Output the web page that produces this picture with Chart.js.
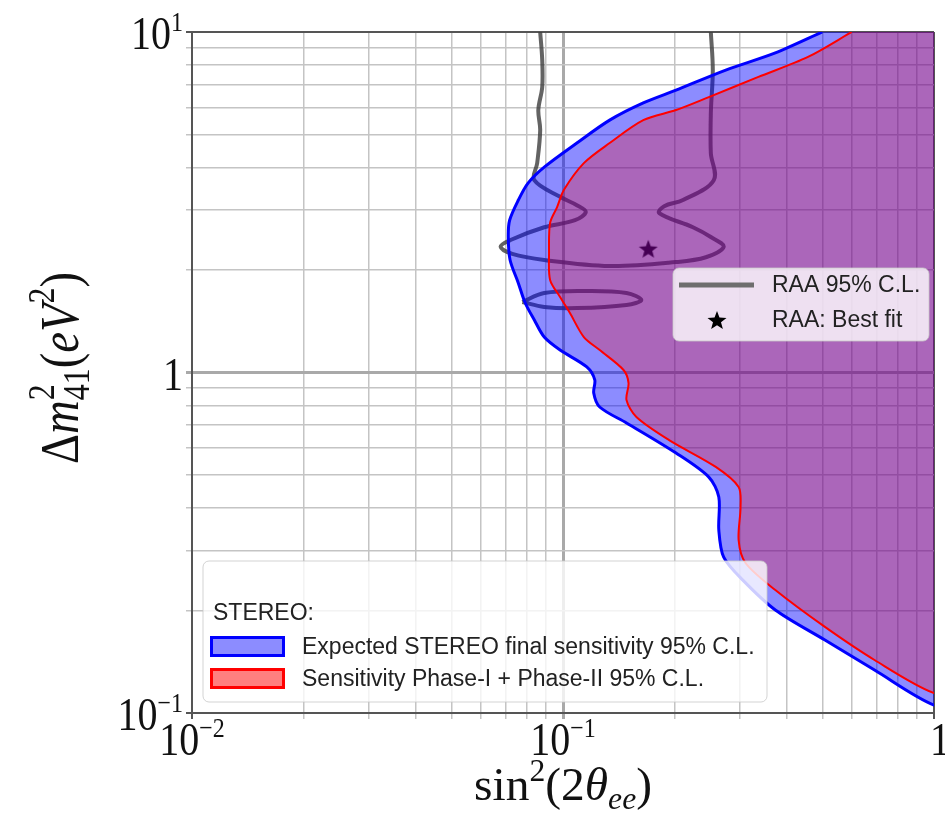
<!DOCTYPE html>
<html>
<head>
<meta charset="utf-8">
<script src="https://cdn.jsdelivr.net/npm/chart.js@4.4.1/dist/chart.umd.min.js"></script>
<style>
  body { margin: 0; background: #fff; }
  canvas { display: block; }
</style>
</head>
<body>
<canvas id="stereoChart" width="945" height="816"></canvas>
<script>
// ---- data (x = sin^2(2theta_ee), y = dm^2_41 in eV^2) ----
const blueX = [0.50, 0.3735, 0.2746, 0.2017, 0.1646, 0.1336, 0.1090, 0.0890, 0.0805, 0.0758, 0.0718, 0.0712,
  0.0720, 0.0758, 0.0791, 0.0837, 0.0890, 0.0982, 0.1159, 0.1218, 0.1210, 0.1256, 0.1483, 0.2017, 0.2472,
  0.2630, 0.2630, 0.2711, 0.3048, 0.3735, 0.5081, 0.6913, 1.0];
const blueY = [10, 8.68, 7.73, 6.75, 6.19, 5.51, 4.72, 4.01, 3.60, 3.21, 2.80, 2.50,
  2.14, 1.83, 1.60, 1.426, 1.271, 1.164, 1.038, 0.951, 0.871, 0.792, 0.711, 0.580, 0.493,
  0.431, 0.345, 0.287, 0.246, 0.2007, 0.1638, 0.1337, 0.1055];

const redX = [0.600, 0.4575, 0.3363, 0.2472, 0.2017, 0.1646, 0.1336, 0.1138, 0.1006, 0.0964, 0.0923, 0.0917,
  0.0923, 0.0982, 0.1044, 0.1138, 0.1256, 0.1456, 0.1502, 0.1483, 0.1577, 0.1932, 0.2581, 0.2974,
  0.3010, 0.2974, 0.3105, 0.3735, 0.5081, 0.6913, 1.0];
const redY = [10, 8.45, 7.38, 6.44, 5.90, 5.51, 4.72, 4.12, 3.44, 3.06, 2.75, 2.24,
  1.87, 1.666, 1.495, 1.271, 1.164, 1.017, 0.931, 0.830, 0.740, 0.633, 0.528, 0.461,
  0.4027, 0.322, 0.2757, 0.2297, 0.179, 0.1431, 0.1144];

// RAA 95% C.L. contour, main branch (top-left line, down through the lobes, back up on the right)
const raaX = [0.0868, 0.0879, 0.0879, 0.0858, 0.0868, 0.0852, 0.0837, 0.0982, 0.109, 0.1152, 0.1077, 0.089,
  0.0722, 0.0679, 0.0730, 0.089, 0.1336, 0.2017, 0.2427, 0.2711, 0.2503, 0.224, 0.1817, 0.1874,
  0.2106, 0.2549, 0.2503, 0.2503, 0.2534, 0.2503];
const raaY = [10, 8.28, 6.89, 5.90, 5.15, 4.12, 3.67, 3.28, 3.10, 2.96, 2.80, 2.67,
  2.45, 2.34, 2.23, 2.14, 2.055, 2.11, 2.18, 2.34, 2.50, 2.67, 2.94, 3.08,
  3.21, 3.67, 4.41, 5.78, 7.73, 10];
// RAA closed island
const islandX = [0.0777, 0.089, 0.1159, 0.1483, 0.1626, 0.1483, 0.109, 0.089, 0.0777];
const islandY = [1.61, 1.712, 1.735, 1.712, 1.633, 1.579, 1.546, 1.558, 1.61];

const bestFitX = [0.1698];
const bestFitY = [2.31];

const xTickValues = [0.01, 0.02, 0.03, 0.04, 0.05, 0.06, 0.07, 0.08, 0.09,
  0.1, 0.2, 0.3, 0.4, 0.5, 0.6, 0.7, 0.8, 0.9, 1];
const yTickValues = [0.1, 0.2, 0.3, 0.4, 0.5, 0.6, 0.7, 0.8, 0.9,
  1, 2, 3, 4, 5, 6, 7, 8, 9, 10];
const xLabelValues = [0.01, 0.1, 1];
const xLabelBase = ['10', '10', '1'];
const xLabelExp = ['\u22122', '\u22121', ''];
const yLabelValues = [0.1, 1, 10];
const yLabelBase = ['10', '1', '10'];
const yLabelExp = ['\u22121', '', '1'];

const X_MIN = 0.01, X_MAX = 1, Y_MIN = 0.1, Y_MAX = 10;

const SERIF = '"Liberation Serif", "DejaVu Serif", serif';
const SANS = '"Liberation Sans", Arial, sans-serif';

const pts = (xs, ys) => xs.map((x, i) => ({ x: x, y: ys[i] }));
const isDecade = v => Math.abs(Math.log10(v) - Math.round(Math.log10(v))) < 1e-6;

// contour points plus a closing run outside the plot (right of x max, above y max),
// so the 'shape' fill covers everything to the right of the contour
function region(xs, ys) {
  const p = pts(xs, ys);
  const last = p[p.length - 1];
  p.push({ x: X_MAX * 1.2, y: last.y });
  p.push({ x: X_MAX * 1.2, y: Y_MAX * 1.3 });
  p.push({ x: xs[0], y: Y_MAX * 1.3 });
  return p;
}

// filled five point star used as the best-fit marker
function makeStar(size) {
  const c = document.createElement('canvas');
  c.width = size; c.height = size;
  const g = c.getContext('2d');
  const r = size / 2, ri = r * 0.42;
  g.beginPath();
  for (let i = 0; i < 10; i++) {
    const a = -Math.PI / 2 + i * Math.PI / 5;
    const rr = i % 2 === 0 ? r : ri;
    g.lineTo(r + rr * Math.cos(a), r + rr * Math.sin(a) + 1);
  }
  g.closePath();
  g.fillStyle = '#000';
  g.fill();
  return c;
}
const starImg = makeStar(20);

// text runs: plain / superscript / subscript pieces on one baseline
function runFont(r) {
  return (r.italic ? 'italic ' : '') + r.size + 'px ' + (r.family || SERIF);
}
function runsWidth(ctx, runs) {
  let w = 0, held = 0;
  for (const r of runs) {
    ctx.font = runFont(r);
    const m = ctx.measureText(r.t).width;
    if (r.stack) held = Math.max(held, m);
    else { w += Math.max(m, held); held = 0; }
  }
  return w;
}
function drawRuns(ctx, runs, x, y, opt) {
  const o = opt || {};
  ctx.save();
  ctx.translate(x, y);
  if (o.rotate) ctx.rotate(o.rotate);
  const w = runsWidth(ctx, runs);
  const sx = o.fit ? o.fit / w : (o.sx || 1);
  ctx.scale(sx, o.sy || 1);
  let cx = o.align === 'center' ? -w / 2 : o.align === 'right' ? -w : 0;
  let held = 0;
  ctx.textAlign = 'left';
  ctx.textBaseline = 'alphabetic';
  ctx.fillStyle = o.color || '#111';
  for (const r of runs) {
    ctx.font = runFont(r);
    const m = ctx.measureText(r.t).width;
    ctx.fillText(r.t, cx, r.dy || 0);
    if (r.stack) held = Math.max(held, m);
    else { cx += Math.max(m, held); held = 0; }
  }
  ctx.restore();
}

function roundBox(ctx, x, y, w, h, r) {
  ctx.beginPath();
  ctx.roundRect(x, y, w, h, r);
  ctx.fillStyle = 'rgba(255,255,255,0.8)';
  ctx.fill();
  ctx.strokeStyle = 'rgba(200,200,200,0.8)';
  ctx.lineWidth = 1;
  ctx.stroke();
}

const decorations = {
  id: 'decorations',
  afterDraw(chart) {
    const ctx = chart.ctx;
    const xs = chart.scales.x, ys = chart.scales.y;
    const bottom = chart.chartArea.bottom;

    // tick labels
    xLabelValues.forEach((v, i) => {
      const runs = [{ t: xLabelBase[i], size: 40 }];
      if (xLabelExp[i]) runs.push({ t: xLabelExp[i], size: 24, dy: -15 });
      drawRuns(ctx, runs, xs.getPixelForValue(v) + (xLabelExp[i] ? 0 : 6), bottom + 42, { align: 'center', sy: 1.18 });
    });
    yLabelValues.forEach((v, i) => {
      const runs = [{ t: yLabelBase[i], size: 40 }];
      if (yLabelExp[i]) runs.push({ t: yLabelExp[i], size: 24, dy: -15 });
      drawRuns(ctx, runs, 183, ys.getPixelForValue(v) + 17, { align: 'right', sy: 1.18 });
    });

    // axis titles
    drawRuns(ctx, [
      { t: 'sin', size: 42 },
      { t: '2', size: 28, dy: -17 },
      { t: '(2', size: 42 },
      { t: '\u03b8', size: 42, italic: true },
      { t: 'ee', size: 28, italic: true, dy: 8 },
      { t: ')', size: 42 }
    ], (chart.chartArea.left + chart.chartArea.right) / 2, 800, { align: 'center', fit: 178, sy: 1.12 });

    drawRuns(ctx, [
      { t: '\u0394', size: 44 },
      { t: 'm', size: 44, italic: true },
      { t: '2', size: 30, dy: -19, stack: true },
      { t: '41', size: 30, dy: 9 },
      { t: '(', size: 44 },
      { t: 'eV', size: 44, italic: true },
      { t: '2', size: 30, dy: -19 },
      { t: ')', size: 44 }
    ], 78, 368, { align: 'center', rotate: -Math.PI / 2, fit: 192, sy: 1.25 });

    // legend: RAA
    roundBox(ctx, 673, 268, 256, 73, 6);
    ctx.strokeStyle = '#6e6e6e';
    ctx.lineWidth = 5;
    ctx.beginPath();
    ctx.moveTo(679, 285);
    ctx.lineTo(754, 285);
    ctx.stroke();
    ctx.drawImage(starImg, 717 - 10, 320 - 10);
    ctx.fillStyle = '#222';
    ctx.font = '23px ' + SANS;
    ctx.textBaseline = 'middle';
    ctx.textAlign = 'left';
    ctx.fillText('RAA 95% C.L.', 772, 286);
    ctx.fillText('RAA: Best fit', 772, 321);

    // legend: STEREO
    roundBox(ctx, 203, 561, 564, 141, 6);
    ctx.fillStyle = '#222';
    ctx.fillText('STEREO:', 213, 614);
    ctx.lineWidth = 3;
    ctx.fillStyle = 'rgba(0,0,255,0.45)';
    ctx.fillRect(211.5, 637.5, 72, 18);
    ctx.strokeStyle = '#0000ff';
    ctx.strokeRect(211.5, 637.5, 72, 18);
    ctx.fillStyle = 'rgba(255,0,0,0.5)';
    ctx.fillRect(211.5, 669.5, 72, 18);
    ctx.strokeStyle = '#ff0000';
    ctx.strokeRect(211.5, 669.5, 72, 18);
    ctx.fillStyle = '#222';
    ctx.fillText('Expected STEREO final sensitivity 95% C.L.', 302, 648);
    ctx.fillText('Sensitivity Phase-I + Phase-II 95% C.L.', 302, 680);
  }
};

function gridStyle(min, max) {
  const edge = v => Math.abs(v - min) < 1e-9 || Math.abs(v - max) < 1e-9;
  return {
    color: c => {
      const v = c.tick && c.tick.value;
      if (v === undefined) return '#c4c4c4';
      if (edge(v)) return '#555';
      return isDecade(v) ? '#a9a9a9' : '#c4c4c4';
    },
    lineWidth: c => {
      const v = c.tick && c.tick.value;
      if (v === undefined) return 1.5;
      if (edge(v)) return 2;
      return isDecade(v) ? 3 : 1.5;
    },
    tickLength: 6
  };
}

new Chart(document.getElementById('stereoChart'), {
  type: 'line',
  data: {
    datasets: [
      {
        label: 'Sensitivity Phase-I + Phase-II 95% C.L.',
        data: region(redX, redY),
        borderColor: '#ff0000',
        borderWidth: 2,
        backgroundColor: 'rgba(255,0,0,0.27)',
        fill: 'shape',
        tension: 0.3,
        pointRadius: 0,
        order: 1
      },
      {
        label: 'Expected STEREO final sensitivity 95% C.L.',
        data: region(blueX, blueY),
        borderColor: '#0000ff',
        borderWidth: 3,
        backgroundColor: 'rgba(0,0,255,0.45)',
        fill: 'shape',
        tension: 0.3,
        pointRadius: 0,
        order: 2
      },
      {
        label: 'RAA 95% C.L.',
        data: pts(raaX, raaY),
        borderColor: 'rgba(60,60,60,0.8)',
        borderWidth: 4,
        fill: false,
        tension: 0.35,
        pointRadius: 0,
        order: 3
      },
      {
        label: 'RAA island',
        data: pts(islandX, islandY),
        borderColor: 'rgba(60,60,60,0.8)',
        borderWidth: 4,
        fill: false,
        tension: 0.35,
        pointRadius: 0,
        order: 3
      },
      {
        label: 'RAA: Best fit',
        data: pts(bestFitX, bestFitY),
        showLine: false,
        pointStyle: starImg,
        pointRadius: 10,
        order: 3
      }
    ]
  },
  options: {
    indexAxis: 'y',
    responsive: false,
    animation: false,
    events: [],
    layout: { padding: { top: 32, right: 5, left: 0, bottom: 0 } },
    plugins: { legend: { display: false }, tooltip: { enabled: false } },
    scales: {
      x: {
        type: 'logarithmic',
        min: X_MIN,
        max: X_MAX,
        afterBuildTicks: s => { s.ticks = xTickValues.map(v => ({ value: v, major: isDecade(v) })); },
        afterFit: s => { s.height = 103; },
        ticks: { display: false },
        grid: gridStyle(X_MIN, X_MAX),
        border: { color: '#555', width: 2 }
      },
      y: {
        type: 'logarithmic',
        min: Y_MIN,
        max: Y_MAX,
        afterBuildTicks: s => { s.ticks = yTickValues.map(v => ({ value: v, major: isDecade(v) })); },
        afterFit: s => { s.width = 192; },
        ticks: { display: false },
        grid: gridStyle(Y_MIN, Y_MAX),
        border: { color: '#555', width: 2 }
      }
    }
  },
  plugins: [decorations]
});
</script>
</body>
</html>
